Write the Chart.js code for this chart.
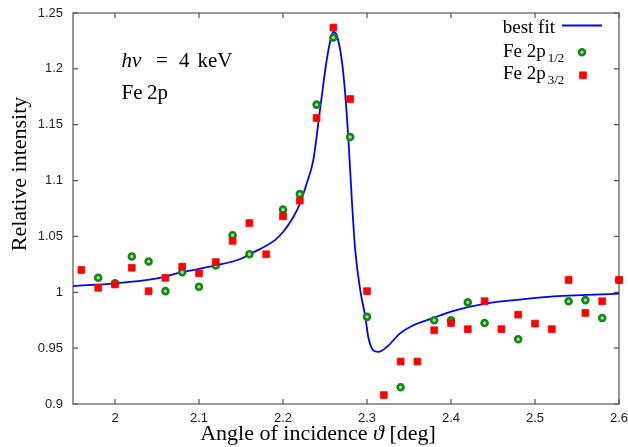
<!DOCTYPE html>
<html>
<head>
<meta charset="utf-8">
<script src="https://cdn.jsdelivr.net/npm/chart.js@4.4.1/dist/chart.umd.min.js"></script>
<style>
  html, body { margin: 0; padding: 0; background: #fff; }
  #wrap { width: 628px; height: 447px; position: relative; }
</style>
</head>
<body>
<div id="wrap"><canvas id="c" width="628" height="447"></canvas></div>
<script>
// Measured angles of incidence (deg)
const angles = [1.96, 1.98, 2.00, 2.02, 2.04, 2.06, 2.08, 2.10, 2.12, 2.14, 2.16,
                2.18, 2.20, 2.22, 2.24, 2.26, 2.28, 2.30, 2.32, 2.34, 2.36, 2.38,
                2.40, 2.42, 2.44, 2.46, 2.48, 2.50, 2.52, 2.54, 2.56, 2.58, 2.60];

// Fe 2p3/2 relative intensity
const fe2p32 = [1.020, 1.004, 1.007, 1.022, 1.001, 1.013, 1.023, 1.017, 1.027, 1.046, 1.062,
                1.034, 1.068, 1.082, 1.156, 1.237, 1.173, 1.001, 0.908, 0.938, 0.938, 0.966,
                0.9725, 0.967, 0.992, 0.967, 0.980, 0.972, 0.967, 1.011, 0.9815, 0.992, 1.011];

// Fe 2p1/2 relative intensity (null where not measured)
const fe2p12 = [null, 1.013, 1.008, 1.032, 1.0275, 1.001, 1.018, 1.005, 1.024, 1.051, 1.034,
                null, 1.074, 1.088, 1.168, 1.228, 1.139, 0.978, null, 0.915, null, 0.975,
                0.975, 0.991, 0.9725, null, 0.958, null, null, 0.992, 0.993, 0.977, 1.011];

// Best-fit curve
const fitAngles = [1.95, 2.00, 2.05, 2.08, 2.12, 2.15, 2.16, 2.19, 2.20, 2.212, 2.22, 2.228,
                   2.236, 2.244, 2.252, 2.258, 2.260, 2.264, 2.270, 2.274, 2.278, 2.282,
                   2.286, 2.292, 2.298, 2.3015, 2.3075, 2.3135, 2.3235, 2.339, 2.355, 2.375,
                   2.403, 2.4425, 2.482, 2.522, 2.5615, 2.60];
const fitValues = [1.0056, 1.008, 1.0125, 1.018, 1.024, 1.030, 1.034, 1.0465, 1.054, 1.067, 1.079, 1.097,
                   1.118, 1.163, 1.2077, 1.230, 1.233, 1.230, 1.2077, 1.178, 1.135, 1.082,
                   1.0376, 1.0018, 0.978, 0.960, 0.948, 0.9466, 0.951, 0.963, 0.9705, 0.976,
                   0.9833, 0.990, 0.9935, 0.9964, 0.9976, 0.9988];

// Axis ticks
const xTicks = [2.0, 2.1, 2.2, 2.3, 2.4, 2.5, 2.6];
const xTickLabels = ['2', '2.1', '2.2', '2.3', '2.4', '2.5', '2.6'];
const yTicks = [0.9, 0.95, 1.0, 1.05, 1.1, 1.15, 1.2, 1.25];
const yTickLabels = ['0.9', '0.95', '1', '1.05', '1.1', '1.15', '1.2', '1.25'];

const SERIF = '"Liberation Serif", "Times New Roman", serif';
const SANS = '"Liberation Sans", Arial, sans-serif';

const GREEN_PT = { pointStyle: 'circle', radius: 3.0, borderWidth: 2.6, rotation: 0 };
const RED_PT = { pointStyle: 'rect', radius: 4.8, borderWidth: 0.8, rotation: 0 };
const GREEN_BORDER = '#128812', GREEN_FILL = '#a8d8a8';
const RED = '#ff0000';
const BLUE = '#0000ff';

const toXY = (xs, ys) => xs.map((x, i) => ({ x, y: ys[i] })).filter(p => p.y !== null);

// Box frame with inward ticks on all four sides
const framePlugin = {
  id: 'frame',
  beforeDatasetsDraw(chart) {
    const { ctx, chartArea: a, scales: { x, y } } = chart;
    ctx.save();
    ctx.strokeStyle = '#555';
    ctx.lineWidth = 1.2;
    ctx.strokeRect(a.left, a.top, a.right - a.left, a.bottom - a.top);
    const L = 5;
    ctx.beginPath();
    xTicks.forEach(v => {
      const px = x.getPixelForValue(v);
      ctx.moveTo(px, a.bottom); ctx.lineTo(px, a.bottom - L);
      ctx.moveTo(px, a.top); ctx.lineTo(px, a.top + L);
    });
    yTicks.forEach(v => {
      const py = y.getPixelForValue(v);
      ctx.moveTo(a.left, py); ctx.lineTo(a.left + L, py);
      ctx.moveTo(a.right, py); ctx.lineTo(a.right - L, py);
    });
    ctx.stroke();
    ctx.restore();
  }
};

function drawRuns(ctx, x, y, runs) {
  let cx = x;
  runs.forEach(r => {
    ctx.font = (r.italic ? 'italic ' : '') + r.size + 'px ' + SERIF;
    ctx.fillText(r.t, cx, y + (r.dy || 0));
    cx += ctx.measureText(r.t).width + (r.gap || 0);
  });
  return cx - x;
}
function runsWidth(ctx, runs) {
  let w = 0;
  runs.forEach(r => {
    ctx.font = (r.italic ? 'italic ' : '') + r.size + 'px ' + SERIF;
    w += ctx.measureText(r.t).width + (r.gap || 0);
  });
  return w;
}

// Axis titles, annotation and key
const textPlugin = {
  id: 'texts',
  afterDraw(chart) {
    const ctx = chart.ctx;
    ctx.save();
    ctx.fillStyle = '#000';
    ctx.textBaseline = 'alphabetic';
    ctx.textAlign = 'left';

    // x-axis title
    const xRuns = [
      { t: 'Angle of incidence ', size: 22 },
      { t: 'ϑ', size: 22, italic: true },
      { t: ' [deg]', size: 22 }
    ];
    const xw = runsWidth(ctx, xRuns);
    drawRuns(ctx, 318 - xw / 2, 440, xRuns);

    // y-axis title
    ctx.save();
    ctx.translate(26, 174);
    ctx.rotate(-Math.PI / 2);
    ctx.font = '22px ' + SERIF;
    ctx.textAlign = 'center';
    ctx.fillText('Relative intensity', 0, 0);
    ctx.restore();

    // annotation
    ctx.font = 'italic 21px ' + SERIF;
    ctx.fillText('hν', 121.5, 67);
    ctx.font = '21px ' + SERIF;
    ctx.fillText('=', 156, 67);
    ctx.fillText('4', 179, 67);
    ctx.fillText('keV', 197.5, 67);
    ctx.fillText('Fe', 121.5, 99);
    ctx.fillText('2p', 147, 99);

    // key
    ctx.font = '19px ' + SERIF;
    ctx.textAlign = 'right';
    ctx.fillText('best fit', 555, 33);
    ctx.textAlign = 'left';
    ctx.strokeStyle = BLUE;
    ctx.lineWidth = 1.8;
    ctx.beginPath();
    ctx.moveTo(562, 25.5); ctx.lineTo(602, 25.5);
    ctx.stroke();

    drawRuns(ctx, 503, 56.5, [{ t: 'Fe 2p', size: 19, gap: 2 }, { t: '1/2', size: 13, dy: 5 }]);
    drawRuns(ctx, 503, 78.5, [{ t: 'Fe 2p', size: 19, gap: 2 }, { t: '3/2', size: 13, dy: 5 }]);

    ctx.fillStyle = GREEN_FILL;
    ctx.strokeStyle = GREEN_BORDER;
    ctx.lineWidth = GREEN_PT.borderWidth;
    Chart.helpers.drawPoint(ctx, GREEN_PT, 582, 52.3);
    ctx.fillStyle = RED;
    ctx.strokeStyle = RED;
    ctx.lineWidth = RED_PT.borderWidth;
    Chart.helpers.drawPoint(ctx, RED_PT, 583, 75.3);
    ctx.restore();
  }
};

new Chart(document.getElementById('c'), {
  type: 'scatter',
  data: {
    datasets: [
      {
        label: 'Fe 2p3/2',
        data: toXY(angles, fe2p32),
        order: 0,
        clip: false,
        pointStyle: 'rect',
        pointRadius: RED_PT.radius,
        pointBorderWidth: RED_PT.borderWidth,
        pointBackgroundColor: RED,
        pointBorderColor: RED
      },
      {
        label: 'Fe 2p1/2',
        data: toXY(angles, fe2p12),
        order: 1,
        clip: false,
        pointStyle: 'circle',
        pointRadius: GREEN_PT.radius,
        pointBorderWidth: GREEN_PT.borderWidth,
        pointBackgroundColor: GREEN_FILL,
        pointBorderColor: GREEN_BORDER
      },
      {
        label: 'best fit',
        data: toXY(fitAngles, fitValues),
        order: 2,
        showLine: true,
        pointRadius: 0,
        borderColor: BLUE,
        borderWidth: 1.8,
        cubicInterpolationMode: 'monotone',
        fill: false
      }
    ]
  },
  options: {
    responsive: false,
    animation: false,
    events: [],
    layout: { padding: { top: 13, right: 9, left: 0, bottom: 0 } },
    plugins: {
      legend: { display: false },
      tooltip: { enabled: false },
      title: { display: false }
    },
    scales: {
      x: {
        type: 'linear',
        min: 1.95,
        max: 2.6,
        grid: { display: false, drawTicks: false },
        border: { display: false },
        afterBuildTicks: s => { s.ticks = xTicks.map(v => ({ value: v })); },
        afterFit: s => { s.height = 43; s.paddingLeft = 0; s.paddingRight = 0; },
        ticks: {
          padding: 7,
          maxRotation: 0,
          autoSkip: false,
          color: '#222',
          font: { family: SANS, size: 13 },
          callback: v => xTickLabels[xTicks.findIndex(t => Math.abs(t - v) < 1e-9)]
        }
      },
      y: {
        type: 'linear',
        min: 0.9,
        max: 1.25,
        grid: { display: false, drawTicks: false },
        border: { display: false },
        afterBuildTicks: s => { s.ticks = yTicks.map(v => ({ value: v })); },
        afterFit: s => { s.width = 73; s.paddingTop = 0; s.paddingBottom = 0; },
        ticks: {
          padding: 10,
          autoSkip: false,
          color: '#222',
          font: { family: SANS, size: 13 },
          callback: v => yTickLabels[yTicks.findIndex(t => Math.abs(t - v) < 1e-9)]
        }
      }
    }
  },
  plugins: [framePlugin, textPlugin]
});
</script>
</body>
</html>
